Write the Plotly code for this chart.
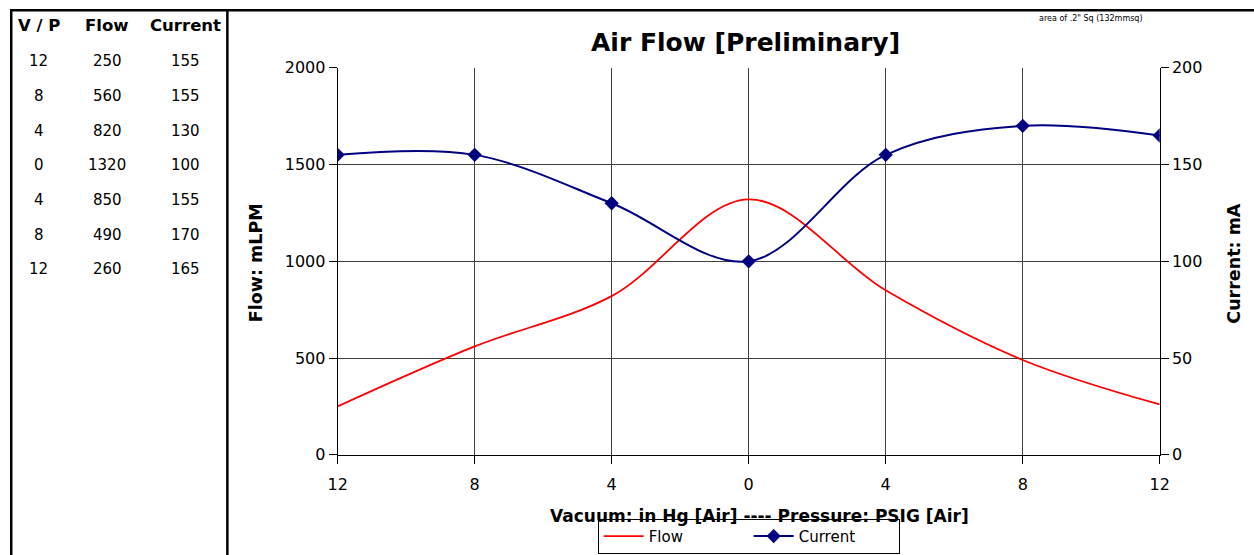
import plotly.graph_objects as go

# ---- data ----
vp_labels = ["12", "8", "4", "0", "4", "8", "12"]
flow = [250, 560, 820, 1320, 850, 490, 260]
current = [155, 155, 130, 100, 155, 170, 165]
table_header = ["V / P", "Flow", "Current"]

# figure size and mapping from target-picture pixels to paper fractions
FW, FH = 1266, 566
SX, CX, SY, CY = 0.9817, 11.4, 0.9664, 8.5

def fx(x):
    return x / SX - CX

def fy(y):
    return y / SY - CY

def px(x):
    return fx(x) / FW

def py(y):
    return 1 - fy(y) / FH

xs = list(range(len(vp_labels)))
FONT = "DejaVu Sans"

fig = go.Figure()
fig.add_trace(go.Scatter(
    x=xs, y=flow, name="Flow", mode="lines",
    line=dict(color="#FF0000", width=1.8, shape="spline", smoothing=1.0),
    yaxis="y",
))
fig.add_trace(go.Scatter(
    x=xs, y=current, name="Current", mode="lines+markers",
    line=dict(color="#000080", width=2, shape="spline", smoothing=1.0),
    marker=dict(symbol="diamond", size=11, color="#000080"),
    yaxis="y2",
))

def ann(x, y, text, size, **kw):
    d = dict(x=px(x), y=py(y), xref="paper", yref="paper", text=text,
             showarrow=False, xanchor="center", yanchor="middle",
             font=dict(family=FONT, size=size, color="black"))
    d.update(kw)
    return d

annotations = []
# table
col_x = [40, 108, 186]
for cx, t in zip(col_x, table_header):
    annotations.append(ann(cx, 25, "<b>%s</b>" % t, 16.5))
row_y = [60, 95, 130, 164, 199, 234, 268]
for ry, a, b, c in zip(row_y, vp_labels, flow, current):
    for cx, t in zip(col_x, [a, str(b), str(c)]):
        annotations.append(ann(cx, ry, t, 15))

# title
annotations.append(ann(745, 42, "<b>Air Flow [Preliminary]</b>", 25))
# axis titles
annotations.append(ann(256, 262, "<b>Flow: mLPM</b>", 17.5, textangle=-90))
annotations.append(ann(1232, 262, "<b>Current: mA</b>", 17.5, textangle=-90))
annotations.append(ann(759, 515, "<b>Vacuum: in Hg [Air] ---- Pressure: PSIG [Air]</b>", 17))
# note at top right
annotations.append(dict(x=px(1143), y=1 - 3.5 / FH, xref="paper", yref="paper",
                        xanchor="right", yanchor="top", showarrow=False,
                        text='area of .2" Sq (132mmsq)',
                        font=dict(family=FONT, size=8, color="black")))

edge = 1.25
shapes = [
    dict(type="line", xref="paper", yref="paper", x0=0, x1=1,
         y0=1 - edge / FH, y1=1 - edge / FH, line=dict(color="black", width=2.5)),
    dict(type="line", xref="paper", yref="paper", x0=edge / FW, x1=edge / FW,
         y0=1, y1=0, line=dict(color="black", width=2.5)),
    dict(type="line", xref="paper", yref="paper", x0=px(228), x1=px(228),
         y0=1, y1=0, line=dict(color="black", width=2.5)),
]

x0p, x1p = px(338), px(1158)
y0p, y1p = py(454), py(67)

fig.update_layout(
    width=FW, height=FH, autosize=False,
    margin=dict(l=0, r=0, t=0, b=0, pad=0),
    paper_bgcolor="white", plot_bgcolor="white",
    font=dict(family=FONT, size=16, color="black"),
    showlegend=True,
    legend=dict(orientation="h", x=px(748), xanchor="center", y=py(553), yanchor="bottom",
                bordercolor="black", borderwidth=1, bgcolor="white",
                font=dict(family=FONT, size=15, color="black"),
                entrywidth=95, entrywidthmode="pixels",
                tracegroupgap=0, itemwidth=40),
    xaxis=dict(domain=[x0p, x1p], range=[0, len(xs) - 1],
               tickmode="array", tickvals=xs, ticktext=vp_labels,
               showgrid=True, gridcolor="#404040", gridwidth=1,
               showline=True, linecolor="black", linewidth=1,
               ticks="outside", ticklen=8, tickcolor="black",
               ticklabelstandoff=7,
               zeroline=False, tickfont=dict(family=FONT, size=16)),
    yaxis=dict(domain=[y0p, y1p], range=[0, 2000], dtick=500, tick0=0,
               showgrid=True, gridcolor="#404040", gridwidth=1,
               showline=True, linecolor="black", linewidth=1,
               ticks="outside", ticklen=8, tickcolor="black",
               zeroline=False, tickfont=dict(family=FONT, size=16)),
    yaxis2=dict(overlaying="y", side="right", anchor="x", range=[0, 200], dtick=50, tick0=0,
                showgrid=False, showline=True, linecolor="black", linewidth=1,
                ticks="outside", ticklen=8, tickcolor="black",
                zeroline=False, tickfont=dict(family=FONT, size=16)),
    annotations=annotations,
    shapes=shapes,
)

fig.write_html(
    "out.html",
    config={"displayModeBar": False},
    post_script="document.body.style.margin='0';",
)
